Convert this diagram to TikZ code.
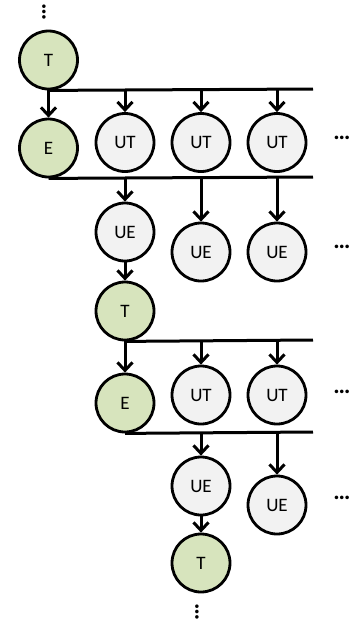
\documentclass[tikz,border=0pt]{standalone}
\usepackage{fontspec}
\setmainfont{Carlito}
\usetikzlibrary{arrows.meta}
\definecolor{tgreen}{HTML}{D7E4BD}
\definecolor{ugrey}{HTML}{F2F2F2}
\begin{document}
\begin{tikzpicture}[x=1pt,y=-1pt,
  base/.style={circle,draw=black,line width=2.8pt,minimum size=58pt,inner sep=0pt,font=\fontsize{19}{22}\selectfont},
  gnode/.style={base,fill=tgreen},
  unode/.style={base,fill=ugrey},
  bus/.style={line width=3pt},
  arr/.style={line width=3pt,-{Straight Barb[length=8pt,width=15pt,line width=3pt]}},
  dots/.style={font=\fontsize{24}{28}\bfseries,inner sep=0pt}]
\useasboundingbox (0,0) rectangle (355,625);
% first block
\node[gnode] (T1) at (48.5,60) {T};
\node[gnode] (E1) at (48.5,148) {E};
\node[unode] (UT1a) at (125,142.5) {UT};
\node[unode] (UT1b) at (201,142.5) {UT};
\node[unode] (UT1c) at (277,142.5) {UT};
\node[unode] (UE1a) at (125,232) {UE};
\node[unode] (UE1b) at (201,252) {UE};
\node[unode] (UE1c) at (277,252) {UE};
% second block
\node[gnode] (T2) at (125,311) {T};
\node[gnode] (E2) at (125,403) {E};
\node[unode] (UT2a) at (201,395) {UT};
\node[unode] (UT2b) at (277,395) {UT};
\node[unode] (UE2a) at (201,486) {UE};
\node[unode] (UE2b) at (277,505) {UE};
\node[gnode] (T3) at (201,563) {T};
% dots
\node[dots] (d1) at (342,138) {…};
\node[dots] (d2) at (342,247) {…};
\node[dots] (d3) at (342,392) {…};
\node[dots] (d4) at (342,498) {…};
\node[dots,rotate=-90] (v1) at (44,12) {…};
\node[dots,rotate=-90] (v2) at (197,612) {…};
% bus ends
\coordinate (b1) at (313,89);
\coordinate (b2) at (313,177);
\coordinate (b3) at (313,340);
\coordinate (b4) at (313,432);
\draw[bus] (T1.south) -- (b1);
\draw[bus] (E1.south) -- (b2);
\draw[bus] (T2.south) -- (b3);
\draw[bus] (E2.south) -- (b4);
% arrows
\draw[arr] (T1.south) -- (E1.north);
\draw[arr] (UT1a.north |- b1) -- (UT1a.north);
\draw[arr] (UT1b.north |- b1) -- (UT1b.north);
\draw[arr] (UT1c.north |- b1) -- (UT1c.north);
\draw[arr] (UE1a.north |- b2) -- (UE1a.north);
\draw[arr] (UE1b.north |- b2) -- (UE1b.north);
\draw[arr] (UE1c.north |- b2) -- (UE1c.north);
\draw[arr] (UE1a.south) -- (T2.north);
\draw[arr] (T2.south) -- (E2.north);
\draw[arr] (UT2a.north |- b3) -- (UT2a.north);
\draw[arr] (UT2b.north |- b3) -- (UT2b.north);
\draw[arr] (UE2a.north |- b4) -- (UE2a.north);
\draw[arr] (UE2b.north |- b4) -- (UE2b.north);
\draw[arr] (UE2a.south) -- (T3.north);
\end{tikzpicture}
\end{document}
